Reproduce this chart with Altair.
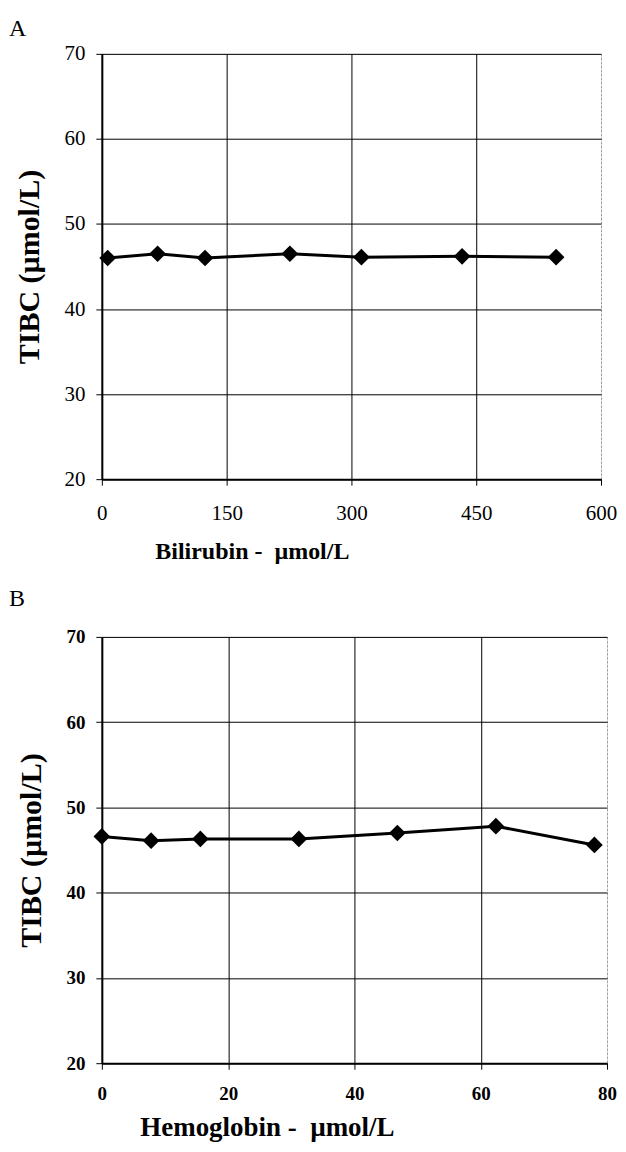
import altair as alt
import pandas as pd

# ---- data ----
bili_x = [7, 67, 124, 226, 312, 433, 546]
bili_y = [46.0, 46.5, 46.0, 46.5, 46.1, 46.2, 46.1]
hb_x = [0, 7.8, 15.6, 31.2, 46.8, 62.4, 78]
hb_y = [46.6, 46.1, 46.3, 46.3, 47.0, 47.8, 45.6]

bili_ticks = [0, 150, 300, 450, 600]
hb_ticks = [0, 20, 40, 60, 80]
tibc_ticks = [20, 30, 40, 50, 60, 70]

FONT = "Liberation Serif"


def panel(xv, yv, xticks, label, xtitle, w, h, lab_size, lab_weight, xtitle_x,
          xlab_pad, xtitle_pad, xtitle_size, title_offset):
    df = pd.DataFrame({"x": xv, "y": yv})
    xmax = xticks[-1]
    xaxis = alt.Axis(
        values=xticks, title=xtitle, format="d",
        labelFont=FONT, labelFontSize=lab_size, labelFontWeight=lab_weight, labelColor="black",
        titleFont=FONT, titleFontSize=xtitle_size, titleFontWeight="bold", titleColor="black",
        titleAnchor="start", titleAlign="left", titleX=xtitle_x, titlePadding=xtitle_pad,
        labelPadding=xlab_pad, tickSize=6, tickColor="black", tickWidth=1,
        domainColor="black", domainWidth=2,
        grid=True,
        gridColor=alt.condition(f"datum.value == {xmax}", alt.value("#999999"), alt.value("black")),
        gridDash=alt.condition(f"datum.value == {xmax}", alt.value([2, 2]), alt.value([])),
        gridWidth=1, labelFlush=False,
    )
    yaxis = alt.Axis(
        values=tibc_ticks, title="TIBC (µmol/L)", format="d",
        labelFont=FONT, labelFontSize=lab_size, labelFontWeight=lab_weight, labelColor="black",
        titleFont=FONT, titleFontSize=30, titleFontWeight="bold", titleColor="black",
        titlePadding=19, labelPadding=11, tickSize=6, tickColor="black", tickWidth=1,
        domainColor="black", domainWidth=2,
        grid=True, gridColor="black", gridWidth=1, labelFlush=False,
    )
    base = alt.Chart(df).encode(
        x=alt.X("x:Q", scale=alt.Scale(domain=[0, xmax], nice=False, zero=False), axis=xaxis),
        y=alt.Y("y:Q", scale=alt.Scale(domain=[20, 70], nice=False, zero=False), axis=yaxis),
    )
    line = base.mark_line(color="black", strokeWidth=3)
    pts = base.mark_point(shape="diamond", filled=True, color="black", size=280, opacity=1)
    return alt.layer(line, pts).properties(
        width=w, height=h,
        title=alt.TitleParams(label, anchor="start", frame="group", font=FONT, fontSize=24,
                              fontWeight="normal", color="black", dx=-93, offset=title_offset),
    )


pa = panel(bili_x, bili_y, bili_ticks, "A", "Bilirubin -\u00a0 µmol/L", 500, 426, 21, "normal",
           53, 17, 16, 24, 2)
pb = panel(hb_x, hb_y, hb_ticks, "B", "Hemoglobin -\u00a0 µmol/L", 506, 427, 19, "bold",
           38, 15, 11, 27, 17)

chart = alt.vconcat(pa, pb, spacing=22).properties(
    padding={"left": 0, "top": 7, "right": 0, "bottom": 0}
).configure_view(stroke="#999999", strokeDash=[2, 2], strokeWidth=1).configure(background="white")

chart.save("out.html", embed_options={"renderer": "svg", "actions": False})
